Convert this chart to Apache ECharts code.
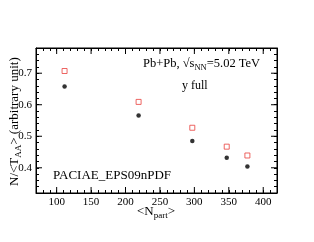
<!DOCTYPE html>
<html><head><meta charset="utf-8">
<script src="https://cdn.jsdelivr.net/npm/echarts@6/dist/echarts.min.js"></script>
<style>html,body{margin:0;padding:0;background:#fff}#c{width:314px;height:242px}</style>
</head><body><div id="c"></div>
<script>
const npart = [111.5, 219, 297, 347, 377];
const blackVals = [0.658, 0.566, 0.485, 0.432, 0.404];
const redVals = [0.707, 0.609, 0.527, 0.467, 0.439];
const xTicks = [100, 150, 200, 250, 300, 350, 400];
const yTicks = [0.4, 0.5, 0.6, 0.7];

const F = 'Liberation Serif, DejaVu Serif, serif';
const chart = echarts.init(document.getElementById('c'));
function ax(o, pos, labels) {
  return Object.assign({
    type: 'value', position: pos,
    axisLine: {show: true, onZero: false, lineStyle: {color: '#000', width: 1}},
    axisTick: {show: true, inside: true, length: 3, lineStyle: {color: '#000'}},
    splitLine: {show: false},
    axisLabel: labels || {show: false}
  }, o);
}
const xr = {min: 70, max: 420, interval: 10};
const yr = {min: 0.32, max: 0.78, interval: 0.02};
const near = (arr, v, eps) => arr.find(t => Math.abs(t - v) < eps);
const majorLen = 6;
chart.setOption({
  animation: false,
  grid: {left: 36, top: 48, right: 37, bottom: 49, show: true, borderColor: '#000', borderWidth: 1},
  xAxis: [
    ax(xr, 'bottom', {fontFamily: F, fontSize: 11, color: '#000', margin: 4, interval: 0,
        showMinLabel: true, showMaxLabel: true, hideOverlap: false,
        formatter: v => { const t = near(xTicks, v, 1e-3); return t !== undefined ? String(t) : ''; }}),
    ax(xr, 'top')
  ],
  yAxis: [
    ax(yr, 'left', {fontFamily: F, fontSize: 11, color: '#000', margin: 4, interval: 0,
        showMinLabel: true, showMaxLabel: true, hideOverlap: false,
        formatter: v => { const t = near(yTicks, v, 1e-6); return t !== undefined ? t.toFixed(1) : ''; }}),
    ax(yr, 'right')
  ],
  series: [
    {type: 'custom', silent: true, clip: false, data: xTicks.map(v => [v, yr.min]),
      renderItem: (params, api) => {
        const p = api.coord([api.value(0), api.value(1)]);
        const cs = params.coordSys; const b = cs.y + cs.height;
        const st = {stroke: '#000', lineWidth: 1};
        return {type: 'group', children: [
          {type: 'line', shape: {x1: p[0], y1: b, x2: p[0], y2: b - majorLen}, style: st},
          {type: 'line', shape: {x1: p[0], y1: cs.y, x2: p[0], y2: cs.y + majorLen}, style: st}]};
      }},
    {type: 'custom', silent: true, clip: false, data: yTicks.map(v => [xr.min, v]),
      renderItem: (params, api) => {
        const p = api.coord([api.value(0), api.value(1)]);
        const cs = params.coordSys; const r = cs.x + cs.width;
        const st = {stroke: '#000', lineWidth: 1};
        return {type: 'group', children: [
          {type: 'line', shape: {x1: cs.x, y1: p[1], x2: cs.x + majorLen, y2: p[1]}, style: st},
          {type: 'line', shape: {x1: r, y1: p[1], x2: r - majorLen, y2: p[1]}, style: st}]};
      }},
    {type: 'scatter', data: npart.map((x, i) => [x, redVals[i]]), symbol: 'rect', symbolSize: 5,
      itemStyle: {color: '#fff', borderColor: '#e8403c', borderWidth: 1}},
    {type: 'scatter', data: npart.map((x, i) => [x, blackVals[i]]), symbol: 'circle', symbolSize: 4.5,
      itemStyle: {color: '#000'}}
  ],
  graphic: [
    {type: 'text', left: 143, top: 57, style: {
      text: '{a|Pb+Pb, √s}{s|NN}{a|=5.02 TeV}',
      rich: {a: {fontFamily: F, fontSize: 12.5, color: '#000'}, s: {fontFamily: F, fontSize: 8.5, color: '#000', padding: [8, 0, 0, 0]}}}},
    {type: 'text', left: 182, top: 80, style: {text: 'y full', font: '12px ' + F, fill: '#000'}},
    {type: 'text', left: 53, top: 169, style: {text: 'PACIAE_EPS09nPDF', font: '13px ' + F, fill: '#000'}},
    {type: 'text', left: 137, top: 205, style: {
      text: '{a|<N}{s|part}{a|>}',
      rich: {a: {fontFamily: F, fontSize: 13, color: '#000'}, s: {fontFamily: F, fontSize: 9, color: '#000', padding: [8, 0, 0, 0]}}}},
    {type: 'text', x: 6, y: 186, rotation: Math.PI / 2, style: {
      text: '{a|N/<T}{s|AA}{a|> (arbitrary unit)}',
      rich: {a: {fontFamily: F, fontSize: 13, color: '#000'}, s: {fontFamily: F, fontSize: 9, color: '#000', padding: [8, 0, 0, 0]}}}}
  ]
});
</script></body></html>
